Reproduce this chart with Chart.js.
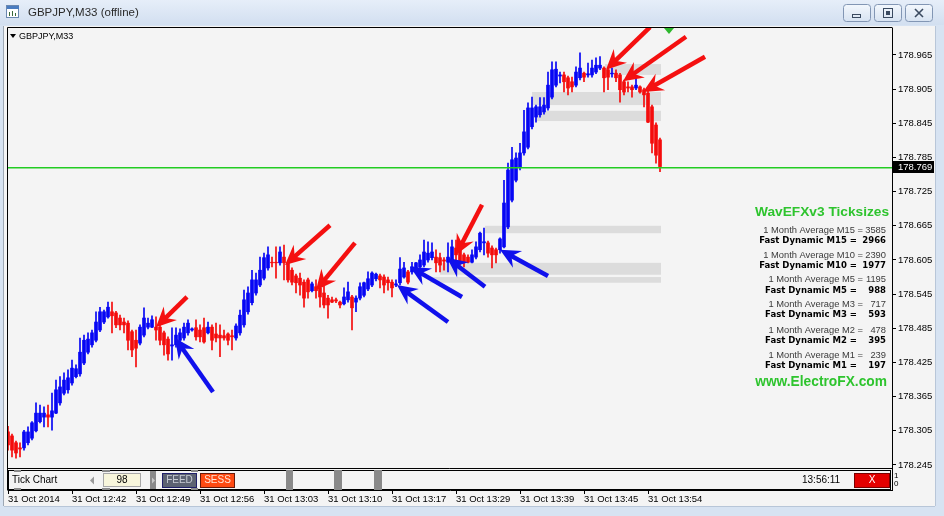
<!DOCTYPE html>
<html><head><meta charset="utf-8">
<script src="https://cdn.jsdelivr.net/npm/chart.js@4.4.1/dist/chart.umd.min.js"></script>
<style>html,body{margin:0;padding:0;background:#d7e3f2;overflow:hidden}canvas{display:block}</style>
</head><body>
<canvas id="c" width="944" height="516" style="width:944px;height:516px"></canvas>
<script>
// ---- DATA (GBPJPY, M33 tick-chart candles) ----
const openP = [178.303,178.296,178.284,178.275,178.275,178.284,178.292,178.305,178.321,178.329,
178.333,178.329,178.336,178.354,178.371,178.377,178.389,178.400,178.405,178.424,
178.443,178.456,178.464,178.482,178.496,178.505,178.514,178.512,178.503,178.496,
178.494,178.479,178.464,178.459,178.473,178.487,178.487,178.487,178.487,178.477,
178.466,178.454,178.456,178.464,178.468,178.477,178.482,178.486,178.482,178.486,
178.477,178.487,178.475,178.473,178.472,178.475,178.472,178.468,178.477,178.491,
178.514,178.530,178.547,178.561,178.573,178.591,178.601,178.601,178.600,178.610,
178.600,178.587,178.577,178.573,178.566,178.570,178.551,178.558,178.556,178.547,
178.538,178.535,178.535,178.531,178.528,178.535,178.540,178.531,178.538,178.543,
178.554,178.561,178.572,178.577,178.575,178.570,178.566,178.561,178.565,178.575,
178.584,178.584,178.587,178.593,178.596,178.605,178.609,178.610,178.609,178.605,
178.601,178.605,178.626,178.623,178.614,178.610,178.601,178.610,178.623,178.635,
178.635,178.626,178.623,178.623,178.628,178.663,178.710,178.745,178.767,178.793,
178.803,178.839,178.856,178.860,178.865,178.872,178.891,178.912,178.928,178.930,
178.925,178.918,178.912,178.925,178.933,178.930,178.930,178.935,178.942,178.942,
178.939,178.932,178.933,178.930,178.918,178.909,178.909,178.907,178.909,178.904,
178.898,178.874,178.842,178.816];
const highP = [178.313,178.299,178.287,178.284,178.306,178.312,178.321,178.354,178.350,178.347,
178.350,178.371,178.394,178.400,178.407,178.412,178.429,178.421,178.468,178.473,
178.477,178.482,178.514,178.522,178.517,178.531,178.531,178.515,178.508,178.503,
178.498,178.482,178.482,178.491,178.521,178.503,178.507,178.505,178.491,178.480,
178.470,178.486,178.486,178.484,178.494,178.500,178.486,178.500,178.491,178.503,
178.496,178.491,178.494,178.491,178.482,178.477,178.482,178.493,178.517,178.552,
178.558,178.587,178.582,178.610,178.617,178.628,178.610,178.628,178.628,178.631,
178.603,178.591,178.580,178.582,178.570,178.573,178.566,178.570,178.558,178.561,
178.543,178.540,178.538,178.533,178.556,178.566,178.543,178.542,178.565,178.566,
178.584,178.584,178.582,178.580,178.579,178.575,178.570,178.570,178.609,178.601,
178.587,178.601,178.601,178.614,178.640,178.637,178.635,178.623,178.617,178.609,
178.635,178.640,178.640,178.626,178.617,178.614,178.623,178.637,178.654,178.661,
178.638,178.630,178.626,178.644,178.745,178.775,178.803,178.793,178.810,178.868,
178.881,178.891,178.877,178.890,178.890,178.935,178.953,178.953,178.935,178.935,
178.928,178.926,178.944,178.969,178.935,178.951,178.956,178.960,178.962,178.944,
178.942,178.942,178.939,178.933,178.921,178.918,178.912,178.925,178.911,178.907,
178.902,178.877,178.846,178.819];
const lowP = [178.271,178.259,178.257,178.259,178.271,178.280,178.289,178.303,178.319,178.312,
178.312,178.306,178.335,178.350,178.368,178.371,178.385,178.398,178.401,178.421,
178.440,178.452,178.461,178.479,178.493,178.503,178.477,178.486,178.482,178.477,
178.447,178.435,178.417,178.456,178.470,178.484,178.486,178.464,178.456,178.438,
178.429,178.429,178.452,178.461,178.464,178.473,178.480,178.464,178.461,178.459,
178.475,178.447,178.461,178.435,178.464,178.456,178.447,178.464,178.473,178.487,
178.510,178.526,178.543,178.558,178.570,178.587,178.593,178.573,178.596,178.570,
178.566,178.561,178.547,178.543,178.522,178.538,178.549,178.538,178.522,178.521,
178.503,178.530,178.530,178.521,178.526,178.531,178.482,178.514,178.535,178.540,
178.551,178.558,178.568,178.556,178.547,178.552,178.540,178.558,178.561,178.573,
178.563,178.580,178.582,178.591,178.593,178.601,178.605,178.584,178.584,178.587,
178.584,178.601,178.593,178.596,178.593,178.600,178.600,178.607,178.619,178.614,
178.610,178.591,178.600,178.617,178.626,178.660,178.707,178.742,178.763,178.789,
178.800,178.835,178.847,178.856,178.861,178.868,178.888,178.909,178.916,178.900,
178.895,178.900,178.909,178.921,178.918,178.926,178.926,178.932,178.939,178.900,
178.904,178.926,178.918,178.882,178.895,178.900,178.891,178.904,178.898,178.874,
178.846,178.793,178.775,178.760];
const closeP = [178.280,178.271,178.266,178.273,178.303,178.303,178.319,178.336,178.336,178.336,
178.329,178.340,178.377,178.382,178.394,178.398,178.415,178.414,178.443,178.464,
178.466,178.477,178.496,178.514,178.514,178.522,178.507,178.491,178.491,178.491,
178.464,178.447,178.450,178.487,178.503,178.494,178.500,178.482,178.464,178.456,
178.440,178.456,178.473,178.477,178.487,178.494,178.484,178.470,178.470,178.461,
178.487,178.464,178.468,178.468,178.468,178.464,178.470,178.489,178.508,178.535,
178.547,178.570,178.570,178.587,178.609,178.614,178.600,178.600,178.619,178.600,
178.570,178.566,178.565,178.561,178.538,178.549,178.563,178.551,178.540,178.526,
178.526,178.531,178.533,178.526,178.540,178.549,178.521,178.538,178.558,178.565,
178.572,178.582,178.580,178.570,178.561,178.565,178.556,178.563,178.589,178.591,
178.566,178.593,178.600,178.605,178.619,178.617,178.619,178.600,178.596,178.603,
178.610,178.628,178.614,178.601,178.601,178.601,178.614,178.628,178.652,178.637,
178.617,178.614,178.614,178.642,178.705,178.763,178.781,178.784,178.793,178.830,
178.872,178.872,178.874,178.874,178.877,178.912,178.939,178.940,178.930,178.918,
178.907,178.909,178.935,178.942,178.926,178.932,178.942,178.947,178.947,178.925,
178.926,178.933,178.925,178.904,178.900,178.907,178.904,178.912,178.900,178.895,
178.847,178.810,178.789,178.769];

const xTickIndex = [0,16,32,48,64,80,96,112,128,144,160];
const xTickLabels = ["31 Oct 2014","31 Oct 12:42","31 Oct 12:49","31 Oct 12:56","31 Oct 13:03",
  "31 Oct 13:10","31 Oct 13:17","31 Oct 13:29","31 Oct 13:39","31 Oct 13:45","31 Oct 13:54"];
const yTickValues = [178.965,178.905,178.845,178.785,178.725,178.665,178.605,178.545,178.485,178.425,178.365,178.305,178.245];
const priceMin = 178.2010, priceMax = 179.0124;   // visible price range
const barSlots = 221;                               // visible bar slots
const bidPrice = 178.769;

// gray zones: start bar, end bar, upper price, lower price
const zoneStart = [149.25, 131, 131.75, 119.25, 108, 105.5];
const zoneEnd   = [163.25, 163.25, 163.25, 163.25, 163.25, 163.25];
const zoneTop   = [178.949, 178.900, 178.867, 178.665, 178.600, 178.575];
const zoneBot   = [178.930, 178.877, 178.849, 178.652, 178.579, 178.565];

// arrows: [tip bar, tip price, tail bar, tail price]
const redArrows = [[37,178.487,44.75,178.540],[69.25,178.596,80.5,178.666],[77,178.552,86.75,178.635],
  [112,178.614,118.5,178.702],[149.5,178.939,160.5,179.014],[153.75,178.919,169.5,178.997],[158.75,178.900,174.25,178.962]];
const blueArrows = [[41.75,178.468,51.25,178.373],[97.25,178.561,110,178.496],[100.5,178.593,113.5,178.540],
  [109.75,178.609,119.25,178.558],[123,178.623,135,178.577]];

const avgLabels = ["1 Month Average M15 =","1 Month Average M10 =","1 Month Average M5 =","1 Month Average M3 =","1 Month Average M2 =","1 Month Average M1 ="];
const avgValues = [3585,2390,1195,717,478,239];
const fastLabels = ["Fast Dynamic M15 =","Fast Dynamic M10 =","Fast Dynamic M5 =","Fast Dynamic M3 =","Fast Dynamic M2 =","Fast Dynamic M1 ="];
const fastValues = [2966,1977,988,593,395,197];

// ---- CHART ----
const UP = '#0606f4', DOWN = '#f40c0c';
const colors = openP.map((o,i)=> closeP[i] >= o ? UP : DOWN);
const wickData = openP.map((o,i)=>({x:i, y:[lowP[i], highP[i]]}));
const bodyData = openP.map((o,i)=>({x:i, y:[o, closeP[i]]}));
const AX_FONT = {family:'Liberation Sans', size:9.5};

function arrow(c, x1, y1, x2, y2, col){
  const a = Math.atan2(y1-y2, x1-x2), ca = Math.cos(a), sa = Math.sin(a);
  const hl = 20, hw = 9.5;
  c.strokeStyle = col; c.fillStyle = col; c.lineWidth = 4.5; c.lineCap='butt';
  c.beginPath(); c.moveTo(x2,y2); c.lineTo(x1 - ca*hl*0.6, y1 - sa*hl*0.6); c.stroke();
  const bx = x1 - ca*hl, by = y1 - sa*hl;
  c.beginPath(); c.moveTo(x1,y1);
  c.lineTo(bx - sa*hw, by + ca*hw);
  c.lineTo(x1 - ca*hl*0.65, y1 - sa*hl*0.65);
  c.lineTo(bx + sa*hw, by - ca*hw);
  c.closePath(); c.fill();
}
function fitFont(c, txt, w, weight, fam){
  c.font = weight+' 20px '+fam;
  const s = 20 * w / c.measureText(txt).width;
  return weight+' '+s.toFixed(2)+'px '+fam;
}

const chrome = {
  id:'chrome',
  beforeDraw(ch){
    const c = ch.ctx; c.save();
    c.fillStyle = '#d7e3f2'; c.fillRect(0,0,944,516);
    const g = c.createLinearGradient(0,0,0,25);
    g.addColorStop(0,'#e6eef9'); g.addColorStop(1,'#d2dff0');
    c.fillStyle = g; c.fillRect(0,0,944,25);
    c.fillStyle = '#f4f4f4'; c.fillRect(4,26,931,480);
    c.strokeStyle = '#9ea8b4'; c.lineWidth = 1;
    c.beginPath(); c.moveTo(3.5,26); c.lineTo(3.5,506); c.stroke();
    c.strokeStyle = '#b8c6d8';
    c.beginPath(); c.moveTo(935.5,26); c.lineTo(935.5,506); c.moveTo(4,506.5); c.lineTo(935,506.5); c.stroke();
    c.restore();
  },
  beforeDatasetsDraw(ch){
    const c = ch.ctx, xs = ch.scales.x, ys = ch.scales.y, A = ch.chartArea;
    c.save();
    c.fillStyle = '#dcdcdc';
    for (let k=0;k<zoneStart.length;k++){
      const x1 = xs.getPixelForValue(zoneStart[k]), x2 = xs.getPixelForValue(zoneEnd[k]);
      const y1 = ys.getPixelForValue(zoneTop[k]), y2 = ys.getPixelForValue(zoneBot[k]);
      c.fillRect(x1, y1, x2-x1, y2-y1);
    }
    c.restore();
  },
  afterDatasetsDraw(ch){
    const c = ch.ctx, xs = ch.scales.x, ys = ch.scales.y, A = ch.chartArea;
    c.save();
    // bid line
    const bly = Math.round(ys.getPixelForValue(bidPrice));
    c.fillStyle = '#22cc22';
    c.fillRect(A.left, bly, A.right - A.left, 1.5);
    c.beginPath(); c.rect(A.left, A.top, A.right-A.left, 441); c.clip();
    const P = (b,p)=>[xs.getPixelForValue(b), ys.getPixelForValue(p)];
    redArrows.forEach(r=>{ const t=P(r[0],r[1]), s=P(r[2],r[3]); arrow(c,t[0],t[1],s[0],s[1],'#f41010'); });
    blueArrows.forEach(r=>{ const t=P(r[0],r[1]), s=P(r[2],r[3]); arrow(c,t[0],t[1],s[0],s[1],'#1010ec'); });
    // green marker at top
    const gx = xs.getPixelForValue(165.25);
    c.fillStyle = '#2db82d';
    c.beginPath(); c.moveTo(gx-5, A.top); c.lineTo(gx+5, A.top); c.lineTo(gx, A.top+6); c.closePath(); c.fill();
    c.restore();
  },
  afterDraw(ch){
    const c = ch.ctx, ys = ch.scales.y, A = ch.chartArea;
    c.save();
    // frame lines
    c.strokeStyle = '#000'; c.lineWidth = 1;
    c.beginPath();
    c.moveTo(7.5, 27.5); c.lineTo(892.5, 27.5);
    c.moveTo(7.5, 27.5); c.lineTo(7.5, 490.5);
    c.moveTo(7.5, 468.5); c.lineTo(892, 468.5);
    c.stroke();
    // sub window panel
    c.fillStyle = '#f4f4f4'; c.fillRect(8, 469, 884, 21);
    c.strokeStyle = '#000';
    c.strokeRect(8.5, 470.5, 882, 19);
    c.fillStyle = '#000'; c.font = '10px Liberation Sans'; c.textBaseline = 'middle'; c.textAlign='left';
    c.fillText('Tick Chart', 12, 480.5);
    c.fillStyle = '#9a9a9a';
    c.beginPath(); c.moveTo(94,476.5); c.lineTo(94,484.5); c.lineTo(90,480.5); c.closePath(); c.fill();
    c.fillStyle = '#8a8a8a';
    [[14,470,7,2],[14,488,7,2],[102,470,8,2],[102,488,8,2],[150,471,6,18],[286,470,7,20],[334,470,8,20],[374,470,8,20],[191,470,7,2],[191,488,7,2]].forEach(r=>c.fillRect(r[0],r[1],r[2],r[3]));
    c.fillStyle = '#f8f6dc'; c.fillRect(103,473,38,14);
    c.strokeStyle = '#a8a8a8'; c.strokeRect(103.5,473.5,37,13);
    c.fillStyle = '#000'; c.textAlign='center'; c.fillText('98', 122, 480.5);
    c.fillStyle = '#c8c8c8';
    c.beginPath(); c.moveTo(152,477.5); c.lineTo(152,483.5); c.lineTo(155,480.5); c.closePath(); c.fill();
    c.fillStyle = '#5c6272'; c.fillRect(162,473,35,15);
    c.strokeStyle = '#20206a'; c.strokeRect(162.5,473.5,34,14);
    c.fillStyle = '#c8ccd4'; c.fillText('FEED', 179.5, 480.5);
    c.fillStyle = '#ff4a12'; c.fillRect(200,473,35,15);
    c.strokeStyle = '#6a1a0a'; c.strokeRect(200.5,473.5,34,14);
    c.fillStyle = '#ffe6d8'; c.fillText('SESS', 217.5, 480.5);
    c.fillStyle = '#000'; c.textAlign='left'; c.fillText('13:56:11', 802, 480.5);
    c.fillStyle = '#e40000'; c.fillRect(854,473,36,15);
    c.strokeStyle = '#7a0000'; c.strokeRect(854.5,473.5,35,14);
    c.fillStyle = '#fff'; c.textAlign='center'; c.fillText('X', 872, 480.5);
    c.fillStyle = '#000'; c.textAlign='left'; c.font = '8px Liberation Sans';
    c.fillText('1', 894, 476); c.fillText('0', 894, 484);
    // bid price box
    const by = Math.round(ys.getPixelForValue(bidPrice));
    c.fillStyle = '#000'; c.fillRect(893, by-6, 41, 12);
    c.fillStyle = '#fff'; c.font = '9.5px Liberation Sans'; c.textAlign='left';
    c.fillText(bidPrice.toFixed(3), 898, by+0.5);
    // chart label
    c.fillStyle = '#000';
    c.beginPath(); c.moveTo(10,34); c.lineTo(16,34); c.lineTo(13,38); c.closePath(); c.fill();
    c.font = '9px Liberation Sans'; c.fillText('GBPJPY,M33', 19, 36.5);
    // ticksize block
    c.textAlign = 'right';
    c.fillStyle = '#2ec42e';
    c.font = fitFont(c, 'WavEFXv3 Ticksizes', 134, 'bold', 'Liberation Sans');
    c.fillText('WavEFXv3 Ticksizes', 889, 212);
    c.font = fitFont(c, 'www.ElectroFX.com', 132, 'bold', 'Liberation Sans');
    c.fillText('www.ElectroFX.com', 887, 382);
    const avgY = [230,255,279,304,330,355], fastY = [241,266,291,315,341,366];
    const fAvg = fitFont(c, avgLabels[0], 100, 'normal', 'Liberation Sans');
    const fFast = fitFont(c, fastLabels[0], 98, 'bold', 'DejaVu Sans');
    for (let k=0;k<6;k++){
      c.font = fAvg; c.fillStyle = '#3a3a3a';
      c.fillText(avgLabels[k], 863, avgY[k]); c.fillText(String(avgValues[k]), 886, avgY[k]);
      c.font = fFast; c.fillStyle = '#000';
      c.fillText(fastLabels[k], 857, fastY[k]); c.fillText(String(fastValues[k]), 886, fastY[k]);
    }
    // title bar
    c.textAlign='left'; c.fillStyle = '#2a2a2a'; c.font = '11.5px Liberation Sans';
    c.fillText('GBPJPY,M33 (offline)', 28, 13);
    c.fillStyle = '#fff'; c.fillRect(6,5,13,13);
    c.strokeStyle = '#6a88b0'; c.strokeRect(6.5,5.5,12,12);
    c.fillStyle = '#4a7cc0'; c.fillRect(7,6,12,3);
    c.fillStyle = '#3a6a3a'; c.fillRect(9,12,1,4); c.fillRect(12,11,1,5); c.fillRect(15,13,1,3);
    [843,874,905].forEach((bx,k)=>{
      const gg = c.createLinearGradient(0,4,0,22);
      gg.addColorStop(0,'#f4f8fd'); gg.addColorStop(1,'#d6e2f1');
      c.fillStyle = gg; c.beginPath(); c.roundRect(bx+0.5,4.5,27,17,3); c.fill();
      c.strokeStyle = '#8296b4'; c.stroke();
      c.strokeStyle = '#3a4a60'; c.fillStyle = '#3a4a60'; c.lineWidth = 1;
      const cx = bx+14;
      if (k===0){ c.strokeRect(cx-4.5,14.5,8,3); }
      else if (k===1){ c.strokeRect(cx-4.5,8.5,9,9); c.fillRect(cx-2,11,4,4); }
      else { c.lineWidth=1.6; c.beginPath(); c.moveTo(cx-4,9); c.lineTo(cx+4,17); c.moveTo(cx+4,9); c.lineTo(cx-4,17); c.stroke(); }
    });
    c.restore();
  }
};

new Chart(document.getElementById('c').getContext('2d'), {
  type:'bar',
  data:{ datasets:[
    {label:'wick', data:wickData, backgroundColor:colors, borderWidth:0, barThickness:1, grouped:false, order:2},
    {label:'body', data:bodyData, backgroundColor:colors, borderWidth:0, barThickness:3, grouped:false, order:1}
  ]},
  options:{
    responsive:false, animation:false, events:[],
    layout:{padding:{top:28, left:8, right:0, bottom:0}},
    plugins:{legend:{display:false}, tooltip:{enabled:false}},
    scales:{
      x:{type:'linear', min:0, max:barSlots, offset:false, position:'bottom',
        afterBuildTicks:s=>{ s.ticks = xTickIndex.map(v=>({value:v})); },
        afterFit:s=>{ s.height = 26; },
        ticks:{autoSkip:false, maxRotation:0, minRotation:0, align:'start', padding:0, color:'#000', font:AX_FONT,
          callback:(v,i)=>xTickLabels[i]},
        grid:{display:true, offset:false, drawOnChartArea:false, drawTicks:true, tickLength:4, color:'#000'},
        border:{display:true, color:'#000'}},
      y:{type:'linear', position:'right', min:priceMin, max:priceMax, beginAtZero:false,
        afterBuildTicks:s=>{ s.ticks = yTickValues.map(v=>({value:v})); },
        afterFit:s=>{ s.width = 52; },
        ticks:{autoSkip:false, padding:2, color:'#000', font:AX_FONT, callback:v=>Number(v).toFixed(3)},
        grid:{display:true, drawOnChartArea:false, drawTicks:true, tickLength:4, color:'#000'},
        border:{display:true, color:'#000'}}
    }
  },
  plugins:[chrome]
});
</script>
</body></html>
